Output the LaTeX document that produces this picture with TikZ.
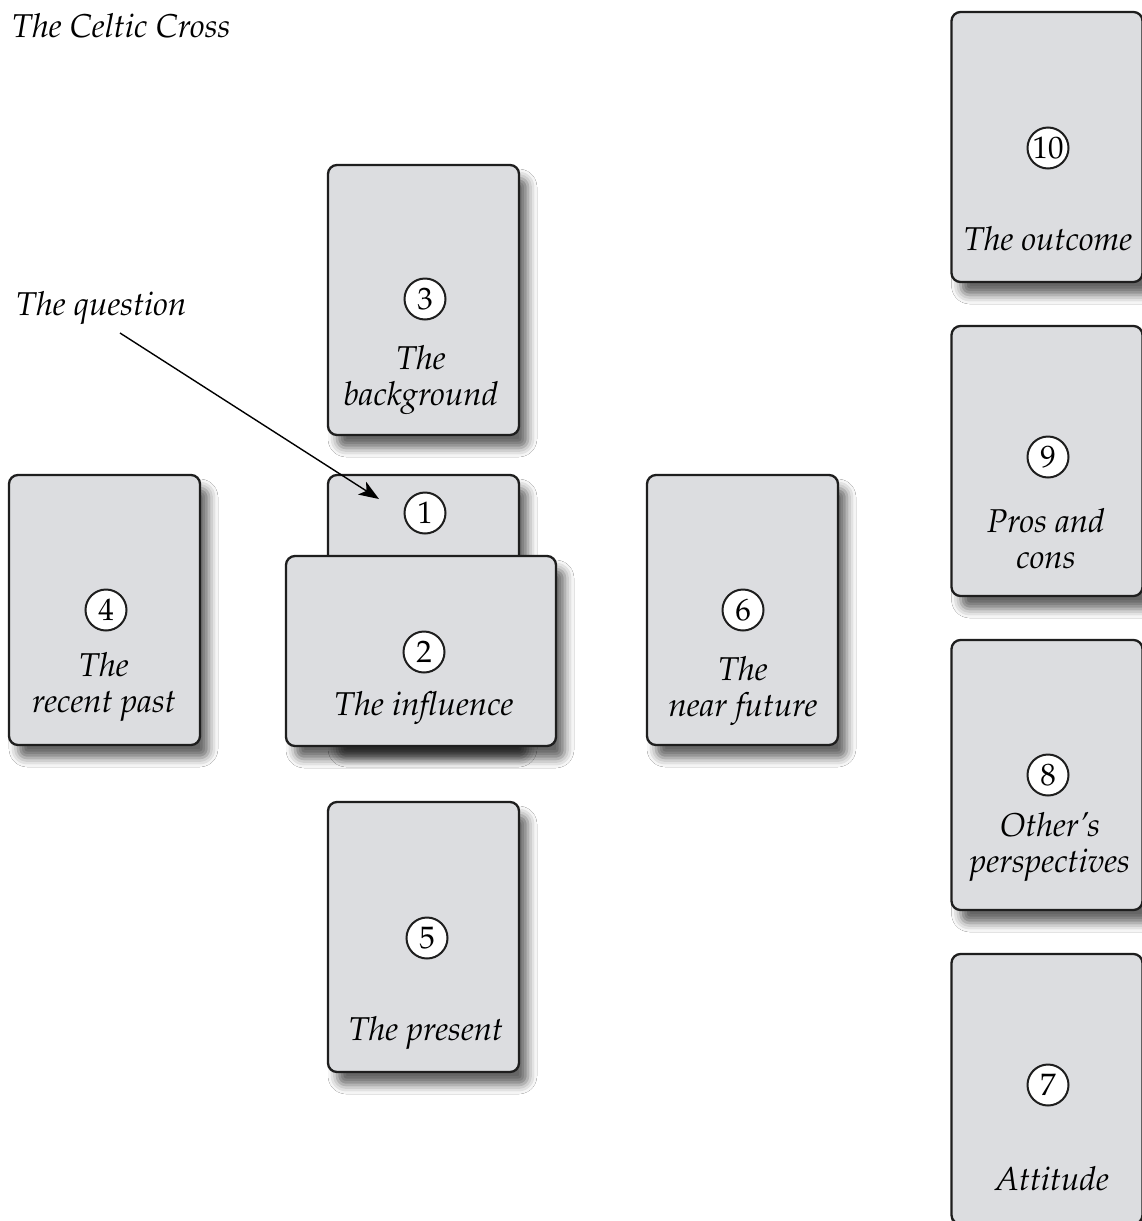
\documentclass[tikz,border=0pt]{standalone}
\usepackage[T1]{fontenc}
\usepackage{mathpazo}
\usetikzlibrary{shadows.blur,arrows.meta}
\definecolor{cardfill}{RGB}{220,221,224}
\definecolor{cardline}{RGB}{30,30,30}
\tikzset{
  card/.style={draw=cardline, line width=2.3pt, fill=cardfill, rounded corners=9pt,
    inner sep=0pt, minimum width=191pt, minimum height=270pt,
    blur shadow={shadow xshift=9pt, shadow yshift=-13pt, shadow blur radius=9pt, shadow opacity=60}},
  widecard/.style={minimum width=270pt, minimum height=190pt},
  num/.style={circle, draw=cardline, line width=2pt, fill=white, minimum size=41pt,
    inner sep=0pt, font=\fontsize{31}{31}\selectfont\upshape},
  lbl/.style={font=\fontsize{33}{36}\selectfont\itshape, align=center, inner sep=0pt, anchor=base},
  pointer/.style={line width=1.4pt, -{Stealth[length=20pt,width=15pt,inset=5pt]}}
}
\begin{document}
\begin{tikzpicture}[x=1pt,y=-1pt]
  \fill[white] (0,0) rectangle (1142,1221);
  \useasboundingbox (0,0) rectangle (1142,1221);

  % cards
  \node[card] (c3) at (423.5,300) {};
  \node[card] (c4) at (104.5,610) {};
  \node[card] (c6) at (742.5,610) {};
  \node[card] (c5) at (423.5,937) {};
  \node[card] (c10) at (1047,147) {};
  \node[card] (c9) at (1047,461) {};
  \node[card] (c8) at (1047,775) {};
  \node[card] (c7) at (1047,1089) {};
  \node[card] (c1) at (423.5,610) {};
  \node[card, widecard] (c2) at (421,651) {};

  % numbers
  \node[num] (n3) at (425,299) {3};
  \node[num] (n1) at (425,513) {1};
  \node[num] (n2) at (424,652) {2};
  \node[num] (n4) at (106,610) {4};
  \node[num] (n6) at (743,610) {6};
  \node[num] (n5) at (427,938) {5};
  \node[num] (n10) at (1048,148) {10};
  \node[num] (n9) at (1048,457) {9};
  \node[num] (n8) at (1048,775) {8};
  \node[num] (n7) at (1048,1085) {7};

  % labels (anchor=base is the baseline of the last line)
  \node[lbl, anchor=base west] (title) at (12,37) {The Celtic Cross};
  \node[lbl, anchor=base west] (quest) at (16,315) {The question};
  \node[lbl] (l3) at (421,405) {The\\background};
  \node[lbl] (l2) at (424,715) {The influence};
  \node[lbl] (l4) at (104,712) {The\\recent past};
  \node[lbl] (l6) at (743,716) {The\\near future};
  \node[lbl] (l5) at (426,1040) {The present};
  \node[lbl] (l10) at (1048,250) {The outcome};
  \node[lbl] (l9) at (1046,568) {Pros and\\cons};
  \node[lbl] (l8) at (1050,872) {Other's\\perspectives};
  \node[lbl] (l7) at (1052,1190) {Attitude};

  % pointer
  \coordinate (qs) at (120,333);
  \coordinate (qt) at (379,499);
  \draw[pointer] (qs) -- (qt);
\end{tikzpicture}
\end{document}
